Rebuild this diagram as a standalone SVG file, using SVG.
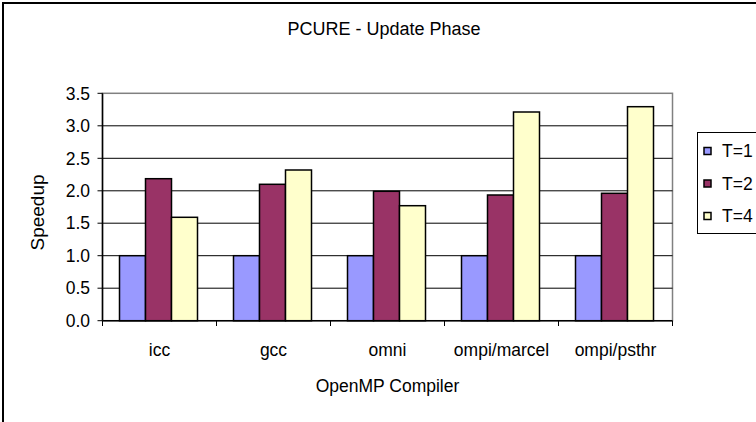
<svg xmlns="http://www.w3.org/2000/svg" width="756" height="422" viewBox="0 0 756 422">
<style>
text{font-family:"Liberation Sans",Arial,sans-serif;fill:#000}
.t{font-size:18px}
.ax{font-size:17.5px}
.grid{stroke:#000;stroke-width:1}
.b1{fill:#9999FF;stroke:#000;stroke-width:1.5}
.b2{fill:#993366;stroke:#000;stroke-width:1.5}
.b4{fill:#FFFFCC;stroke:#000;stroke-width:1.5}
.tick{stroke:#000;stroke-width:1}
</style>
<rect x="0" y="0" width="756" height="422" fill="#fff"/>
<rect x="3" y="3" width="800" height="500" fill="none" stroke="#000" stroke-width="2"/>
<text class="t" x="384" y="35" text-anchor="middle">PCURE - Update Phase</text>
<g id="plot">
<rect x="102.5" y="93.3" width="570" height="227.4" fill="#fff" stroke="#808080" stroke-width="1.5"/>
<g id="gridlines">
<line class="grid" x1="102.5" y1="125.8" x2="672.5" y2="125.8"/>
<line class="grid" x1="102.5" y1="158.3" x2="672.5" y2="158.3"/>
<line class="grid" x1="102.5" y1="190.8" x2="672.5" y2="190.8"/>
<line class="grid" x1="102.5" y1="223.2" x2="672.5" y2="223.2"/>
<line class="grid" x1="102.5" y1="255.7" x2="672.5" y2="255.7"/>
<line class="grid" x1="102.5" y1="288.2" x2="672.5" y2="288.2"/>
</g>
</g>
<g id="icc">
<rect class="b1" x="119.5" y="255.7" width="26" height="65"/>
<rect class="b2" x="145.5" y="178.7" width="26" height="142"/>
<rect class="b4" x="171.5" y="217.3" width="26" height="103.4"/>
</g>
<g id="gcc">
<rect class="b1" x="233.5" y="255.7" width="26" height="65"/>
<rect class="b2" x="259.5" y="184.3" width="26" height="136.4"/>
<rect class="b4" x="285.5" y="170" width="26" height="150.7"/>
</g>
<g id="omni">
<rect class="b1" x="347.5" y="255.7" width="26" height="65"/>
<rect class="b2" x="373.5" y="191.3" width="26" height="129.4"/>
<rect class="b4" x="399.5" y="205.7" width="26" height="115"/>
</g>
<g id="ompi_marcel">
<rect class="b1" x="461.5" y="255.7" width="26" height="65"/>
<rect class="b2" x="487.5" y="195" width="26" height="125.7"/>
<rect class="b4" x="513.5" y="112" width="26" height="208.7"/>
</g>
<g id="ompi_psthr">
<rect class="b1" x="575.5" y="255.7" width="26" height="65"/>
<rect class="b2" x="601.5" y="193.3" width="26" height="127.4"/>
<rect class="b4" x="627.5" y="106.7" width="26" height="214"/>
</g>
<g id="axes">
<line x1="102.5" y1="93.3" x2="102.5" y2="320.7" stroke="#000" stroke-width="1.5"/>
<line x1="102.5" y1="320.7" x2="672.5" y2="320.7" stroke="#000" stroke-width="1.5"/>
<line class="tick" x1="97.5" y1="93.3" x2="102.5" y2="93.3"/>
<line class="tick" x1="97.5" y1="125.8" x2="102.5" y2="125.8"/>
<line class="tick" x1="97.5" y1="158.3" x2="102.5" y2="158.3"/>
<line class="tick" x1="97.5" y1="190.8" x2="102.5" y2="190.8"/>
<line class="tick" x1="97.5" y1="223.2" x2="102.5" y2="223.2"/>
<line class="tick" x1="97.5" y1="255.7" x2="102.5" y2="255.7"/>
<line class="tick" x1="97.5" y1="288.2" x2="102.5" y2="288.2"/>
<line class="tick" x1="97.5" y1="320.7" x2="102.5" y2="320.7"/>
<line class="tick" x1="102.5" y1="320.7" x2="102.5" y2="326"/>
<line class="tick" x1="216.5" y1="320.7" x2="216.5" y2="326"/>
<line class="tick" x1="330.5" y1="320.7" x2="330.5" y2="326"/>
<line class="tick" x1="444.5" y1="320.7" x2="444.5" y2="326"/>
<line class="tick" x1="558.5" y1="320.7" x2="558.5" y2="326"/>
<line class="tick" x1="672.5" y1="320.7" x2="672.5" y2="326"/>
</g>
<g id="ylabels" class="ax" text-anchor="end">
<text x="90" y="99.5">3.5</text>
<text x="90" y="132">3.0</text>
<text x="90" y="164.5">2.5</text>
<text x="90" y="197">2.0</text>
<text x="90" y="229.4">1.5</text>
<text x="90" y="261.9">1.0</text>
<text x="90" y="294.4">0.5</text>
<text x="90" y="326.9">0.0</text>
</g>
<text transform="translate(43.5,212.5) rotate(-90)" text-anchor="middle" font-size="19">Speedup</text>
<g id="xlabels" class="ax" text-anchor="middle">
<text x="159.5" y="355.5">icc</text>
<text x="273.5" y="355.5">gcc</text>
<text x="387.5" y="355.5">omni</text>
<text x="501.5" y="355.5">ompi/marcel</text>
<text x="615.5" y="355.5">ompi/psthr</text>
</g>
<text class="ax" x="387.5" y="392" text-anchor="middle">OpenMP Compiler</text>
<g id="legend">
<rect x="697.5" y="132.5" width="80" height="101" fill="#fff" stroke="#000" stroke-width="1"/>
<rect class="b1" x="704" y="147.5" width="7" height="7" stroke-width="1"/>
<rect class="b2" x="704" y="180" width="7" height="7" stroke-width="1"/>
<rect class="b4" x="704" y="212.5" width="7" height="7" stroke-width="1"/>
<text class="ax" x="722" y="157">T=1</text>
<text class="ax" x="722" y="189.5">T=2</text>
<text class="ax" x="722" y="222">T=4</text>
</g>
</svg>
